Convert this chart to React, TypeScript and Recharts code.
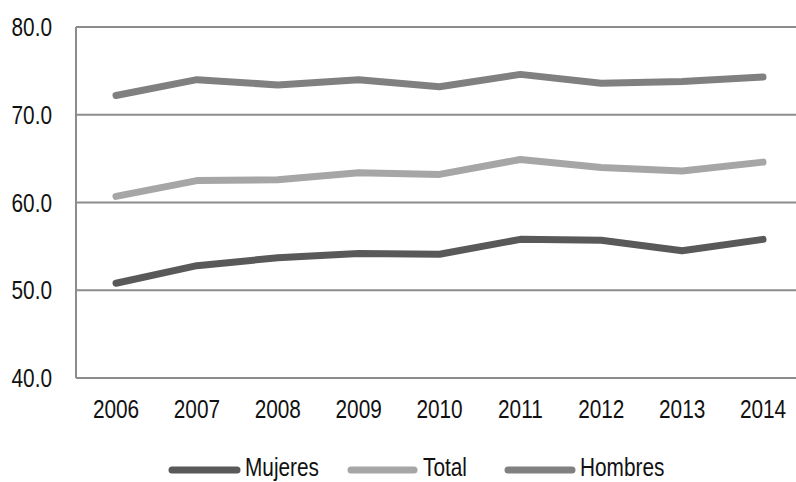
import React from "react";
import { LineChart, Line, XAxis, YAxis, CartesianGrid, Legend } from "recharts";

const years = ["2006", "2007", "2008", "2009", "2010", "2011", "2012", "2013", "2014"];
const mujeres = [50.8, 52.8, 53.7, 54.2, 54.1, 55.8, 55.7, 54.5, 55.8];
const total = [60.7, 62.5, 62.6, 63.4, 63.2, 64.9, 64.0, 63.6, 64.6];
const hombres = [72.2, 74.0, 73.4, 74.0, 73.2, 74.6, 73.6, 73.8, 74.3];
const yTicks = [40, 50, 60, 70, 80];

const series = [
  { key: "Mujeres", color: "#595959" },
  { key: "Total", color: "#a6a6a6" },
  { key: "Hombres", color: "#808080" },
];

const data = years.map((y, i) => ({
  year: y,
  Mujeres: mujeres[i],
  Total: total[i],
  Hombres: hombres[i],
}));

const FONT = "'Liberation Sans', Arial, sans-serif";
const SQUEEZE = 0.8;
const FS = 26;

const YTick = (props: any) => {
  const { x, y, payload } = props;
  return (
    <g transform={`translate(${x},${y})`}>
      <text transform={`scale(${SQUEEZE},1)`} textAnchor="end" dy="0.355em" fill="#111" fontSize={FS} fontFamily={FONT}>
        {Number(payload.value).toFixed(1)}
      </text>
    </g>
  );
};

const XTick = (props: any) => {
  const { x, y, payload } = props;
  return (
    <g transform={`translate(${x},${y})`}>
      <text transform={`scale(${SQUEEZE},1)`} textAnchor="middle" dy="0.355em" fill="#111" fontSize={FS} fontFamily={FONT}>
        {payload.value}
      </text>
    </g>
  );
};

const legendLayout = [
  { x1: 169, x2: 240, tx: 245 },
  { x1: 348, x2: 417, tx: 423 },
  { x1: 505, x2: 575, tx: 580 },
];

const LegendContent = () => (
  <svg width={796} height={54} style={{ display: "block" }}>
    {series.map((s, i) => {
      const l = legendLayout[i];
      return (
        <g key={s.key}>
          <line x1={l.x1 + 3} y1={42} x2={l.x2 - 3} y2={42} stroke={s.color} strokeWidth={7} strokeLinecap="round" />
          <g transform={`translate(${l.tx},47.5)`}>
            <text transform={`scale(${SQUEEZE},1)`} fill="#111" fontSize={FS} fontFamily={FONT}>
              {s.key}
            </text>
          </g>
        </g>
      );
    })}
  </svg>
);

export default function App() {
  return (
    <div style={{ position: "absolute", left: 0, top: 0, width: 796, height: 482, overflow: "hidden", background: "#fff" }}>
      <LineChart width={804} height={482} data={data} margin={{ top: 27, right: 0, bottom: 0, left: 0 }}>
        <CartesianGrid vertical={false} stroke="#8c8c8c" strokeWidth={2} />
        <XAxis
          dataKey="year"
          axisLine={{ stroke: "#8c8c8c", strokeWidth: 2 }}
          tickLine={false}
          tickSize={0}
          tickMargin={31}
          height={50}
          interval={0}
          padding={{ left: 40, right: 41 }}
          tick={<XTick />}
        />
        <YAxis
          domain={[40, 80]}
          ticks={yTicks}
          width={76}
          axisLine={{ stroke: "#8c8c8c", strokeWidth: 2 }}
          tickLine={false}
          tickSize={0}
          tickMargin={24}
          tick={<YTick />}
        />
        <Legend verticalAlign="bottom" height={54} wrapperStyle={{ left: 0, width: 796 }} content={<LegendContent />} />
        {series.map((s) => (
          <Line
            key={s.key}
            type="linear"
            dataKey={s.key}
            stroke={s.color}
            strokeWidth={7}
            strokeLinecap="round"
            strokeLinejoin="round"
            dot={false}
            activeDot={false}
            isAnimationActive={false}
          />
        ))}
      </LineChart>
    </div>
  );
}
